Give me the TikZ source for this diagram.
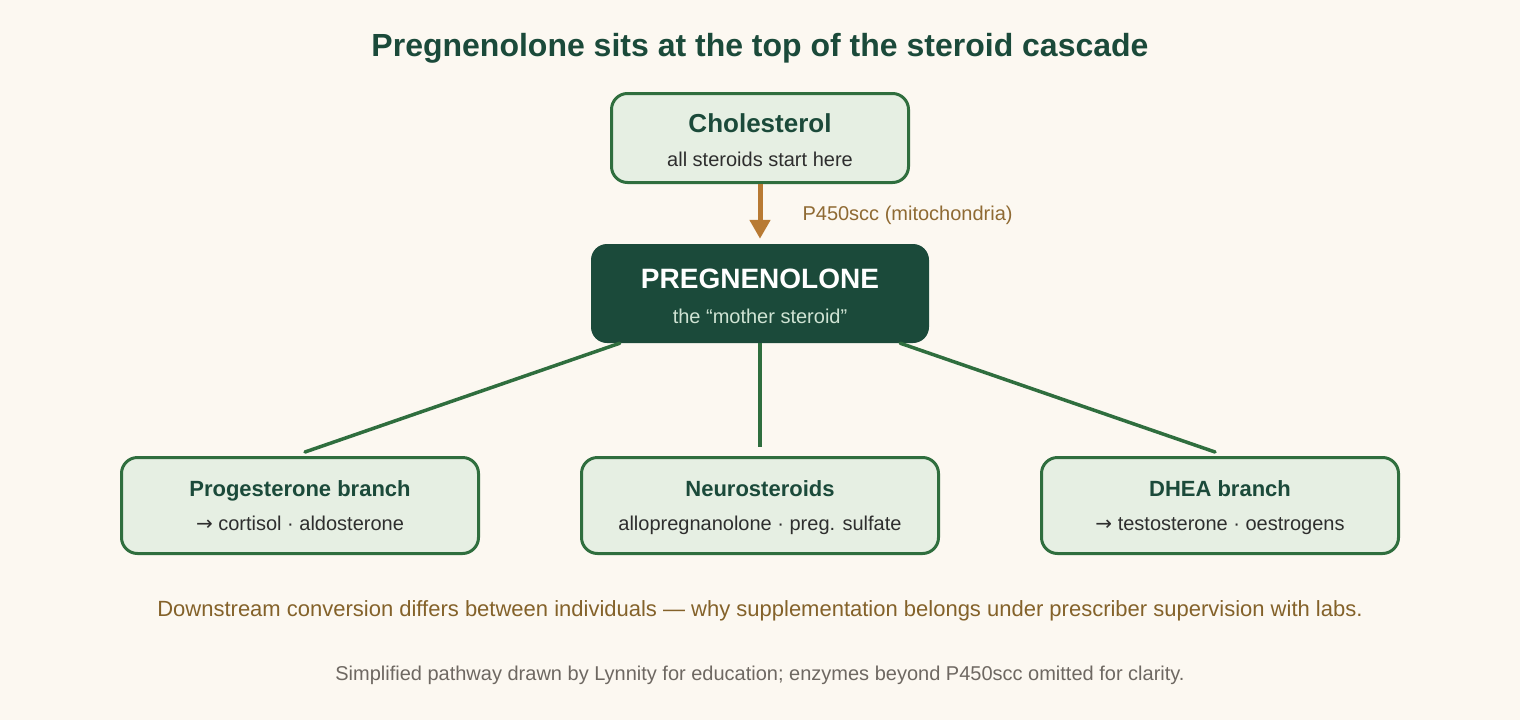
\documentclass[tikz,border=0pt]{standalone}
\usepackage{fontspec}
\setmainfont{Liberation Sans}
\newfontfamily\arrowfont{DejaVu Sans}
\usetikzlibrary{arrows.meta}

\definecolor{cream}{HTML}{FCF8F1}
\definecolor{deepgreen}{HTML}{1B4A3A}
\definecolor{leafline}{HTML}{2F6E3E}
\definecolor{leafbg}{HTML}{E6EFE3}
\definecolor{enzyme}{HTML}{B87A33}
\definecolor{enzymetext}{HTML}{8F6A33}
\definecolor{warntext}{HTML}{84622A}
\definecolor{notetext}{HTML}{6E6862}
\definecolor{subtext}{HTML}{2E2E2E}
\definecolor{palegreen}{HTML}{CFE3D3}

\newcommand{\fsz}[1]{\fontsize{#1}{#1}\selectfont}
\newcommand{\toarrow}{{\arrowfont →}}

\begin{document}
\begin{tikzpicture}[x=1pt,y=-1pt,line cap=round,line join=round,
  leafbox/.style={draw=leafline,fill=leafbg,line width=3pt,rounded corners=16pt,
    minimum width=357,minimum height=96},
  headbox/.style={fill=deepgreen,rounded corners=16pt,minimum width=338,minimum height=99},
  boxtitle/.style={anchor=base,text=deepgreen,font=\bfseries\fsz{22}},
  boxsub/.style={anchor=base,text=subtext,font=\fsz{20}},
  branch/.style={draw=leafline,line width=3.5pt}]
\useasboundingbox[fill=cream] (0,0) rectangle (1520,720);

% title
\node[anchor=base,text=deepgreen,font=\bfseries\fsz{32}] (title) at (760,56)
  {Pregnenolone sits at the top of the steroid cascade};

% cholesterol
\node[leafbox,minimum width=297,minimum height=89] (chol) at (760,138) {};
\node[anchor=base,text=deepgreen,font=\bfseries\fsz{26}] (cholname) at (760,132) {Cholesterol};
\node[boxsub] (cholsub) at (760,166) {all steroids start here};

% pregnenolone
\node[headbox] (preg) at (760,293.5) {};
\node[anchor=base,text=white,font=\bfseries\fsz{28}] (pregname) at (760,288) {PREGNENOLONE};
\node[anchor=base,text=palegreen,font=\fsz{20}] (pregsub) at (760,323) {the “mother steroid”};

% enzyme step
\draw[enzyme,line width=5pt,line cap=butt,-{Triangle[width=20pt,length=19pt]}]
  (chol.south) -- ([yshift=5pt]preg.north);
\node[anchor=base west,text=enzymetext,font=\fsz{20}] (enzlabel) at (799,220) {P450scc (mitochondria)};

% branches
\node[leafbox] (prog) at (300,505.5) {};
\node[boxtitle] (progname) at (300,496) {Progesterone branch};
\node[boxsub] (progsub) at (300,530) {\toarrow{} cortisol · aldosterone};

\node[leafbox] (neuro) at (760,505.5) {};
\node[boxtitle] (neuroname) at (760,496) {Neurosteroids};
\node[boxsub] (neurosub) at (760,530) {allopregnanolone · preg. sulfate};

\node[leafbox] (dhea) at (1220,505.5) {};
\node[boxtitle] (dheaname) at (1220,496) {DHEA branch};
\node[boxsub] (dheasub) at (1220,530) {\toarrow{} testosterone · oestrogens};

\draw[branch] ([xshift=29pt]preg.south west) -- ([xshift=5pt,yshift=4pt]prog.north);
\draw[branch,line cap=butt] (preg.south) -- ([yshift=9pt]neuro.north);
\draw[branch] ([xshift=-29pt]preg.south east) -- ([xshift=-5pt,yshift=4pt]dhea.north);

% footers
\node[anchor=base,text=warntext,font=\fsz{22}] (warn) at (760,616)
  {Downstream conversion differs between individuals — why supplementation belongs under prescriber supervision with labs.};
\node[anchor=base,text=notetext,font=\fsz{20}] (note) at (760,680)
  {Simplified pathway drawn by Lynnity for education; enzymes beyond P450scc omitted for clarity.};
\end{tikzpicture}
\end{document}
